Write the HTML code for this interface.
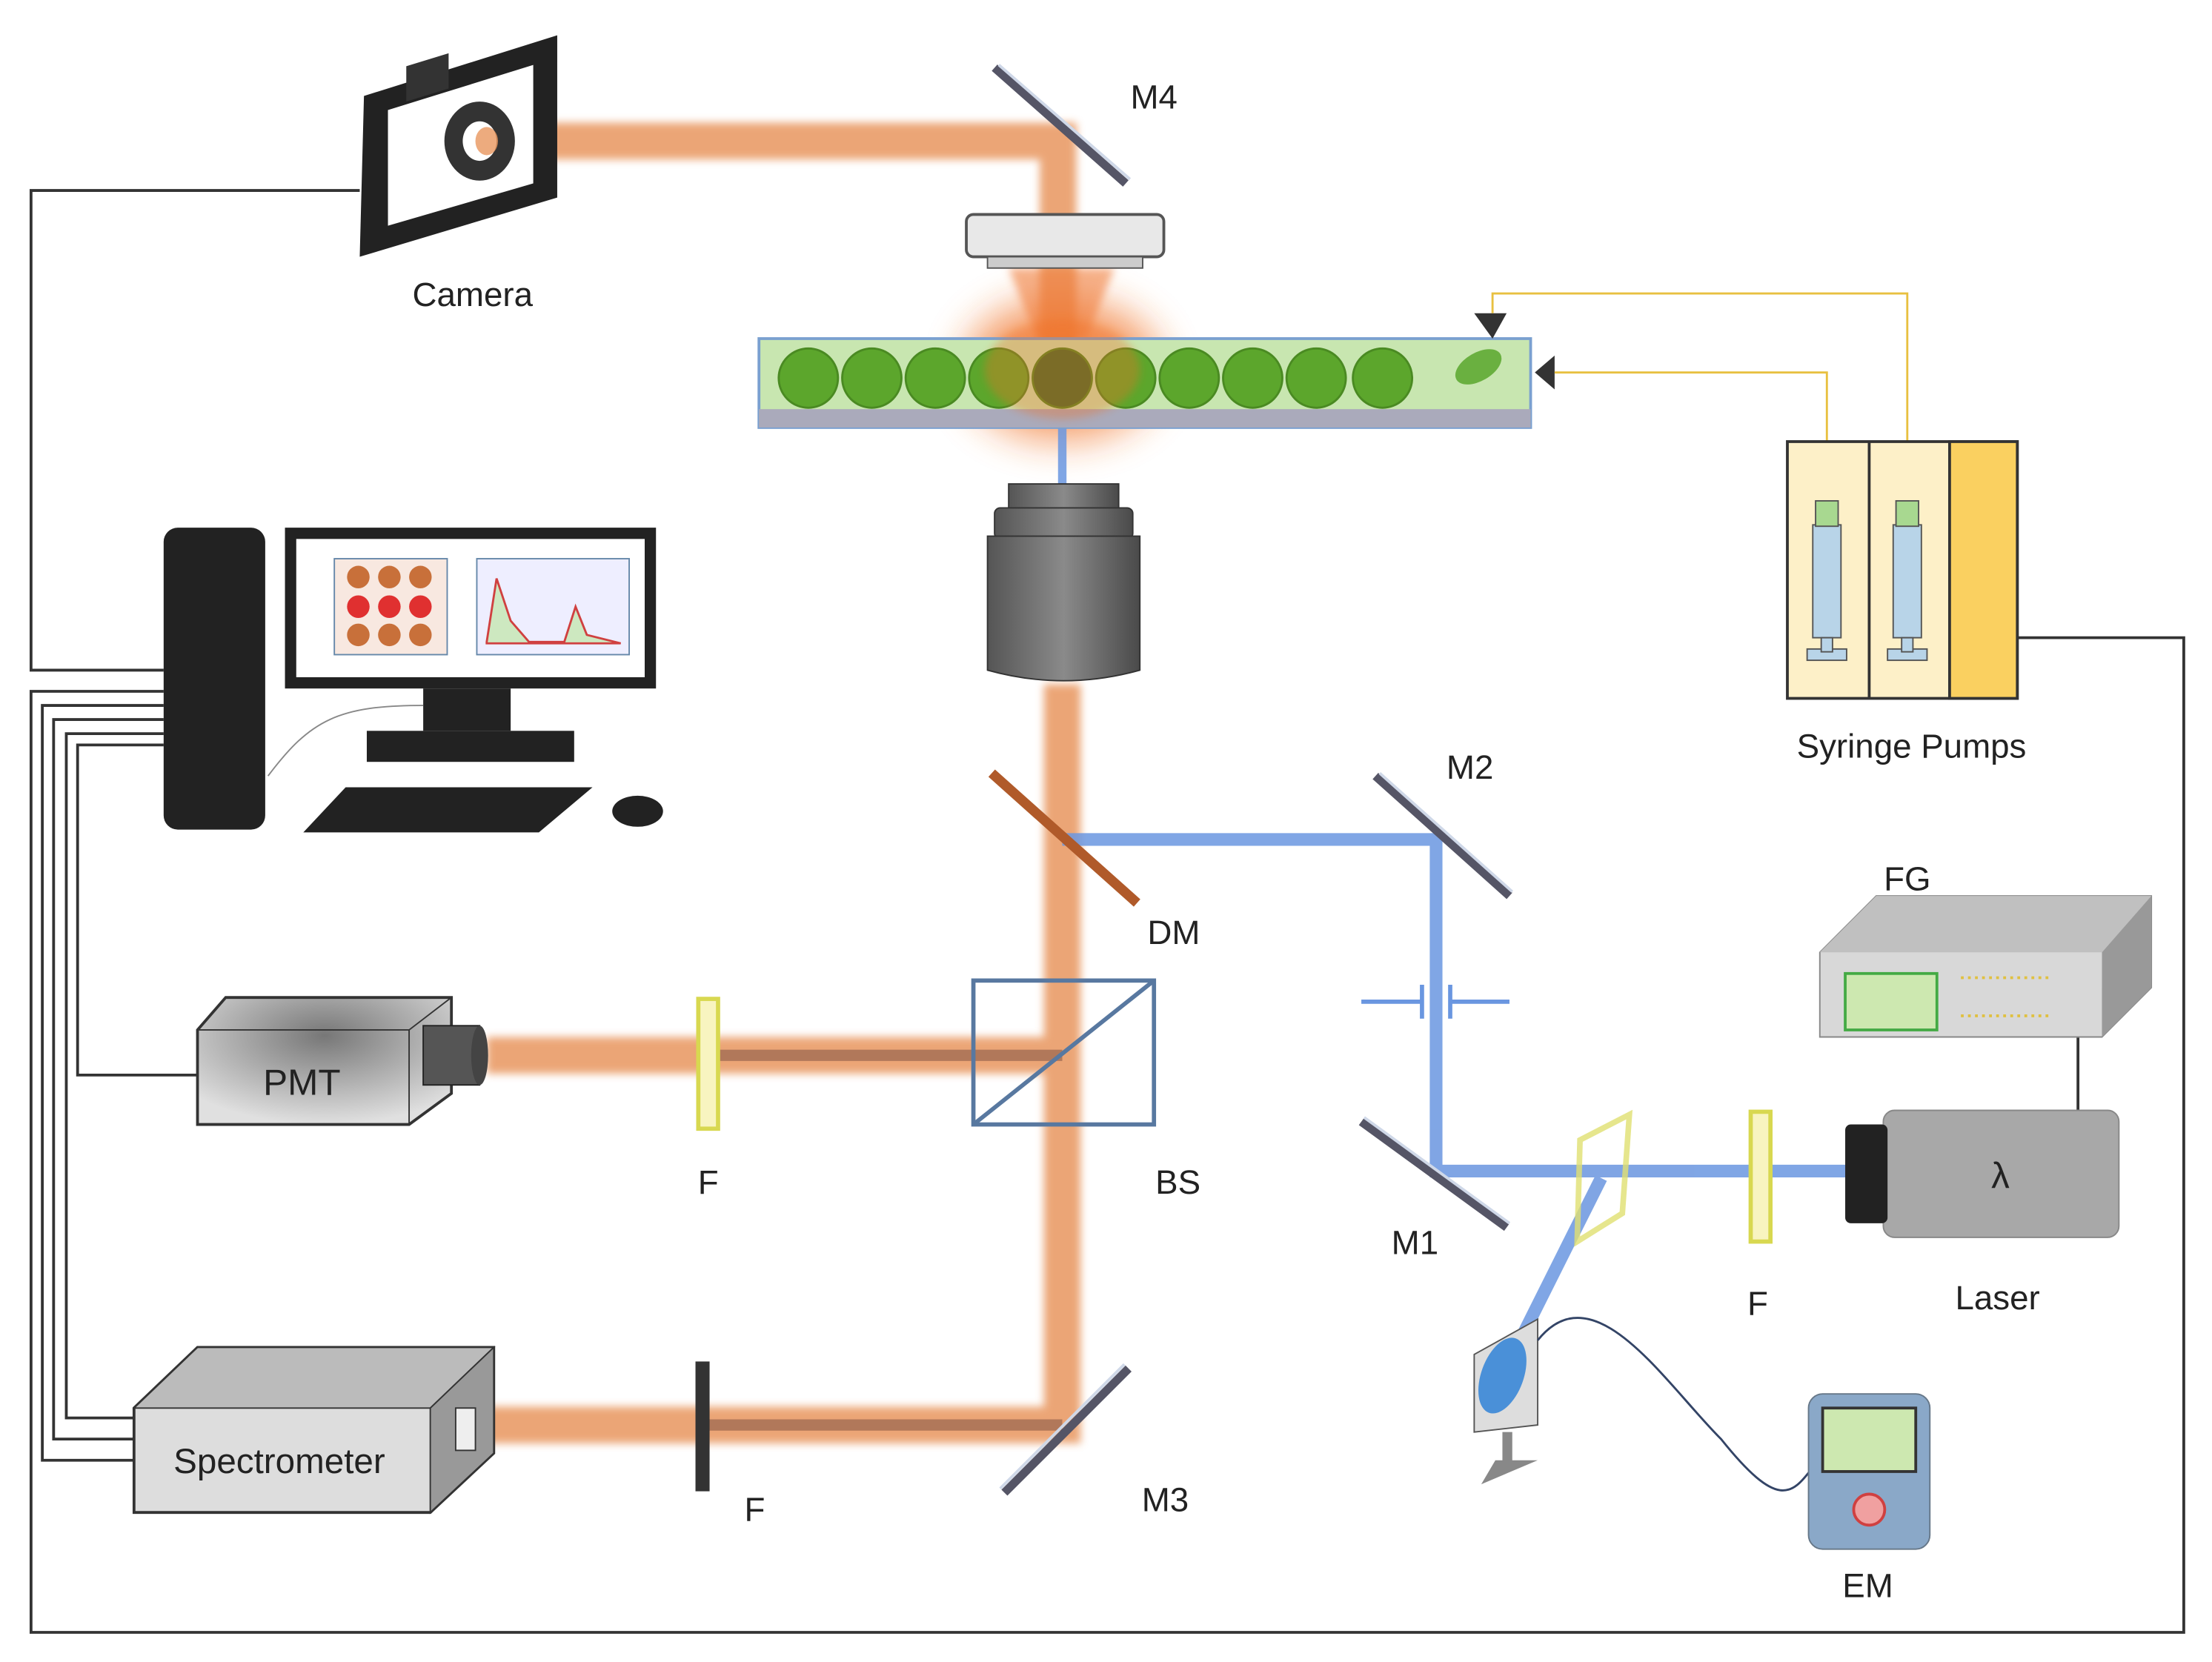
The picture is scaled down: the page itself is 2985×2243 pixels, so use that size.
<!DOCTYPE html>
<html><head><meta charset="utf-8"><style>
html,body{margin:0;padding:0;background:#fff;}
svg{display:block}
text{font-family:"Liberation Sans",sans-serif;fill:#222}
</style></head><body>
<svg width="2985" height="2243" viewBox="0 0 1568 1178" preserveAspectRatio="none" xmlns="http://www.w3.org/2000/svg">
<defs>
<filter id="blur" x="-20%" y="-20%" width="140%" height="140%"><feGaussianBlur stdDeviation="3"/></filter>
<filter id="blur2" x="-50%" y="-50%" width="200%" height="200%"><feGaussianBlur stdDeviation="14"/></filter>
<linearGradient id="gobj" x1="0" x2="1"><stop offset="0" stop-color="#555"/><stop offset=".5" stop-color="#8a8a8a"/><stop offset="1" stop-color="#4a4a4a"/></linearGradient>
<radialGradient id="pmtg" cx=".5" cy=".3" r=".7"><stop offset="0" stop-color="#777"/><stop offset="1" stop-color="#e0e0e0"/></radialGradient>
</defs>
<!-- wires -->
<g fill="none" stroke="#333" stroke-width="2">
<polyline points="255,135 22,135 22,475 116,475"/>
<polyline points="116,490 22,490 22,1157 1548,1157 1548,452 1430,452"/>
<polyline points="116,500 30,500 30,1035 95,1035"/>
<polyline points="116,510 38,510 38,1020 95,1020"/>
<polyline points="116,520 47,520 47,1005 95,1005"/>
<polyline points="116,528 55,528 55,762 140,762"/>
<line x1="1473" y1="735" x2="1473" y2="787"/>
</g>
<!-- orange beams -->
<g stroke="#e8965e" stroke-width="26" fill="none" opacity=".85" filter="url(#blur)">
<polyline points="360,100 750,100 750,300"/>
<polyline points="753,485 753,1010 340,1010"/>
<line x1="345" y1="748" x2="753" y2="748"/>
</g>
<g stroke="#8a5a48" stroke-width="8" opacity=".6" fill="none">
<line x1="500" y1="748" x2="753" y2="748"/>
<line x1="500" y1="1010" x2="753" y2="1010"/>
</g>
<!-- glow -->
<ellipse cx="753" cy="262" rx="70" ry="50" fill="#f07020" opacity=".7" filter="url(#blur2)"/>
<polygon points="715,190 790,190 770,240 735,240" fill="#f08040" opacity=".6" filter="url(#blur)"/>
<!-- blue beams -->
<g stroke="#6a96e0" stroke-width="9" fill="none" opacity=".85">
<polyline points="753,595 1018,595 1018,830 1310,830"/>
<line x1="1135" y1="835" x2="1070" y2="965"/>
<line x1="753" y1="290" x2="753" y2="345" stroke-width="6"/>
</g>
<!-- camera -->
<polygon points="258,68 395,25 395,140 255,182" fill="#222"/>
<polygon points="275,78 378,46 378,130 275,160" fill="#fff"/>
<rect x="288" y="45" width="30" height="25" fill="#333" transform="skewY(-17) translate(0,90)"/>
<ellipse cx="340" cy="100" rx="25" ry="28" fill="#333"/><ellipse cx="340" cy="100" rx="12" ry="14" fill="#fff"/><ellipse cx="345" cy="100" rx="8" ry="10" fill="#e8965e" opacity=".8"/>
<text x="335" y="217" font-size="24" text-anchor="middle">Camera</text>
<!-- mirrors -->
<g stroke="#556" stroke-width="6"><line x1="705" y1="48" x2="798" y2="130"/><line x1="975" y1="550" x2="1070" y2="635"/><line x1="965" y1="795" x2="1068" y2="870"/><line x1="712" y1="1058" x2="800" y2="970"/></g>
<g stroke="#cfd8e8" stroke-width="2"><line x1="708" y1="46" x2="801" y2="127"/><line x1="978" y1="548" x2="1072" y2="632"/><line x1="967" y1="792" x2="1070" y2="867"/><line x1="709" y1="1055" x2="797" y2="967"/></g>
<line x1="703" y1="548" x2="806" y2="640" stroke="#b05a2a" stroke-width="7"/>
<!-- condenser -->
<rect x="685" y="152" width="140" height="30" rx="5" fill="#e8e8e8" stroke="#555" stroke-width="2"/>
<rect x="700" y="182" width="110" height="8" fill="#ccc" stroke="#555"/>
<!-- channel -->
<rect x="538" y="240" width="547" height="63" fill="#c8e6b0" stroke="#7aa0d0" stroke-width="2"/>
<rect x="538" y="290" width="547" height="13" fill="#aab"/>
<g fill="#5ca62c" stroke="#4a8a22" stroke-width="1.5">
<circle cx="573" cy="268" r="21"/><circle cx="618" cy="268" r="21"/><circle cx="663" cy="268" r="21"/><circle cx="708" cy="268" r="21"/><circle cx="753" cy="268" r="21" fill="#3d6a2a"/><circle cx="798" cy="268" r="21"/><circle cx="843" cy="268" r="21"/><circle cx="888" cy="268" r="21"/><circle cx="933" cy="268" r="21"/><circle cx="980" cy="268" r="21"/></g>
<ellipse cx="753" cy="262" rx="55" ry="35" fill="#f07020" opacity=".35" filter="url(#blur)"/>
<ellipse cx="1048" cy="260" rx="18" ry="10" fill="#6ab040" transform="rotate(-30 1048 260)"/>
<polygon points="1045,222 1068,222 1058,240" fill="#333"/><polygon points="1102,252 1102,276 1088,264" fill="#333"/>
<g fill="none" stroke="#e8c040" stroke-width="1.5"><polyline points="1058,222 1058,208 1352,208 1352,340"/><polyline points="1102,264 1295,264 1295,340"/></g>
<!-- lower objective -->
<rect x="715" y="343" width="78" height="20" fill="url(#gobj)" stroke="#333"/>
<rect x="705" y="360" width="98" height="22" rx="4" fill="url(#gobj)" stroke="#333"/>
<path d="M700,380 h108 v95 q-54,15 -108,0z" fill="url(#gobj)" stroke="#333"/>
<!-- syringe pumps -->
<rect x="1267" y="313" width="163" height="182" fill="#fdf0c8" stroke="#333" stroke-width="2"/>
<rect x="1382" y="313" width="48" height="182" fill="#fad060" stroke="#333" stroke-width="2"/>
<line x1="1325" y1="313" x2="1325" y2="495" stroke="#333" stroke-width="2"/>
<g fill="#b8d4e8" stroke="#555"><rect x="1285" y="372" width="20" height="80"/><rect x="1342" y="372" width="20" height="80"/>
<rect x="1287" y="355" width="16" height="18" fill="#a8d890"/><rect x="1344" y="355" width="16" height="18" fill="#a8d890"/>
<rect x="1281" y="460" width="28" height="8"/><rect x="1338" y="460" width="28" height="8"/><rect x="1291" y="452" width="8" height="10"/><rect x="1348" y="452" width="8" height="10"/></g>
<text x="1355" y="537" font-size="24" text-anchor="middle">Syringe Pumps</text>
<!-- computer -->
<rect x="116" y="374" width="72" height="214" rx="10" fill="#222"/>
<rect x="202" y="374" width="263" height="114" fill="#222"/>
<rect x="210" y="382" width="247" height="98" fill="#fff"/>
<rect x="237" y="396" width="80" height="68" fill="#f8e8e0" stroke="#68a"/>
<g fill="#c8703a"><circle cx="254" cy="409" r="8"/><circle cx="276" cy="409" r="8"/><circle cx="298" cy="409" r="8"/><circle cx="254" cy="430" r="8" fill="#e03030"/><circle cx="276" cy="430" r="8" fill="#e03030"/><circle cx="298" cy="430" r="8" fill="#e03030"/><circle cx="254" cy="450" r="8"/><circle cx="276" cy="450" r="8"/><circle cx="298" cy="450" r="8"/></g>
<rect x="338" y="396" width="108" height="68" fill="#eef" stroke="#68a"/>
<path d="M345,455 L352,410 L362,440 L375,455 L400,455 L408,430 L416,450 L440,456 L345,456z" fill="#cde8c0" stroke="#d04040" stroke-width="1.5"/>
<rect x="300" y="488" width="62" height="30" fill="#222"/><rect x="260" y="518" width="147" height="22" fill="#222"/>
<polygon points="245,558 420,558 382,590 215,590" fill="#222"/><ellipse cx="452" cy="575" rx="18" ry="11" fill="#222"/>
<path d="M300,500 C240,500 220,510 190,550" stroke="#888" fill="none"/>
<!-- BS -->
<rect x="690" y="695" width="128" height="102" fill="none" stroke="#5878a0" stroke-width="3"/>
<line x1="690" y1="797" x2="818" y2="695" stroke="#5878a0" stroke-width="3"/>
<!-- filters -->
<rect x="495" y="708" width="14" height="92" fill="#f8f4c0" stroke="#d8d850" stroke-width="3"/>
<rect x="1241" y="788" width="14" height="92" fill="#f8f4c0" stroke="#d8d850" stroke-width="3"/>
<rect x="493" y="965" width="10" height="92" fill="#333"/>
<!-- iris -->
<g stroke="#6a96e0" stroke-width="3"><line x1="965" y1="710" x2="1008" y2="710"/><line x1="1028" y1="710" x2="1070" y2="710"/><line x1="1008" y1="698" x2="1008" y2="722"/><line x1="1028" y1="698" x2="1028" y2="722"/></g>
<polygon points="1120,808 1155,790 1150,860 1118,880" fill="none" stroke="#e0e070" stroke-width="4" opacity=".8"/>
<!-- PMT -->
<polygon points="140,730 160,707 320,707 320,775 290,797 140,797" fill="url(#pmtg)" stroke="#333" stroke-width="2"/>
<line x1="290" y1="730" x2="290" y2="797" stroke="#333"/><polyline points="140,730 290,730 320,707" fill="none" stroke="#333"/>
<rect x="300" y="727" width="40" height="42" fill="#555" stroke="#222"/><ellipse cx="340" cy="748" rx="6" ry="21" fill="#444"/>
<text x="214" y="776" font-size="26" text-anchor="middle">PMT</text>
<!-- spectrometer -->
<polygon points="95,998 140,955 350,955 350,1030 305,1072 95,1072" fill="#ddd" stroke="#333" stroke-width="2"/>
<polygon points="95,998 140,955 350,955 305,998" fill="#bbb" stroke="#333"/>
<polygon points="305,998 350,955 350,1030 305,1072" fill="#999" stroke="#333"/>
<rect x="323" y="998" width="14" height="30" fill="#eee" stroke="#333"/>
<text x="198" y="1044" font-size="25" text-anchor="middle">Spectrometer</text>
<!-- FG -->
<polygon points="1290,675 1330,635 1525,635 1525,700 1490,735 1290,735" fill="#d8d8d8" stroke="#888"/>
<polygon points="1290,675 1330,635 1525,635 1490,675" fill="#c0c0c0"/><polygon points="1490,675 1525,635 1525,700 1490,735" fill="#999"/>
<rect x="1308" y="690" width="65" height="40" fill="#cde8b0" stroke="#4a4" stroke-width="2"/>
<line x1="1390" y1="693" x2="1455" y2="693" stroke="#e0c040" stroke-width="2" stroke-dasharray="2 3"/>
<line x1="1390" y1="720" x2="1455" y2="720" stroke="#e0c040" stroke-width="2" stroke-dasharray="2 3"/>
<text x="1352" y="631" font-size="24" text-anchor="middle">FG</text>
<!-- laser -->
<rect x="1335" y="787" width="167" height="90" rx="8" fill="#a8a8a8" stroke="#888"/>
<rect x="1308" y="797" width="30" height="70" rx="4" fill="#222"/>
<text x="1418" y="842" font-size="26" text-anchor="middle">λ</text>
<text x="1416" y="928" font-size="24" text-anchor="middle">Laser</text>
<!-- detector & EM -->
<polygon points="1045,960 1090,935 1090,1010 1045,1015" fill="#ddd" stroke="#555"/>
<ellipse cx="1065" cy="975" rx="15" ry="28" fill="#4a90d8" transform="rotate(20 1065 975)"/>
<polygon points="1065,1015 1072,1015 1072,1035 1090,1035 1050,1052 1060,1035 1065,1035" fill="#888"/>
<path d="M1090,950 C1130,900 1180,980 1220,1020 C1260,1070 1270,1060 1285,1040" stroke="#346" fill="none" stroke-width="1.5"/>
<rect x="1282" y="988" width="86" height="110" rx="10" fill="#8aa8c8" stroke="#678"/>
<rect x="1292" y="998" width="66" height="45" fill="#cde8b0" stroke="#333" stroke-width="2"/>
<circle cx="1325" cy="1070" r="11" fill="#f0a0a0" stroke="#d04040" stroke-width="2"/>
<text x="1324" y="1132" font-size="24" text-anchor="middle">EM</text>
<!-- labels -->
<g font-size="24" text-anchor="middle">
<text x="818" y="77">M4</text><text x="1042" y="552">M2</text><text x="832" y="669">DM</text><text x="835" y="846">BS</text>
<text x="1003" y="889">M1</text><text x="1246" y="932">F</text><text x="502" y="846">F</text><text x="535" y="1078">F</text><text x="826" y="1071">M3</text>
</g>
</svg>
</body></html>
